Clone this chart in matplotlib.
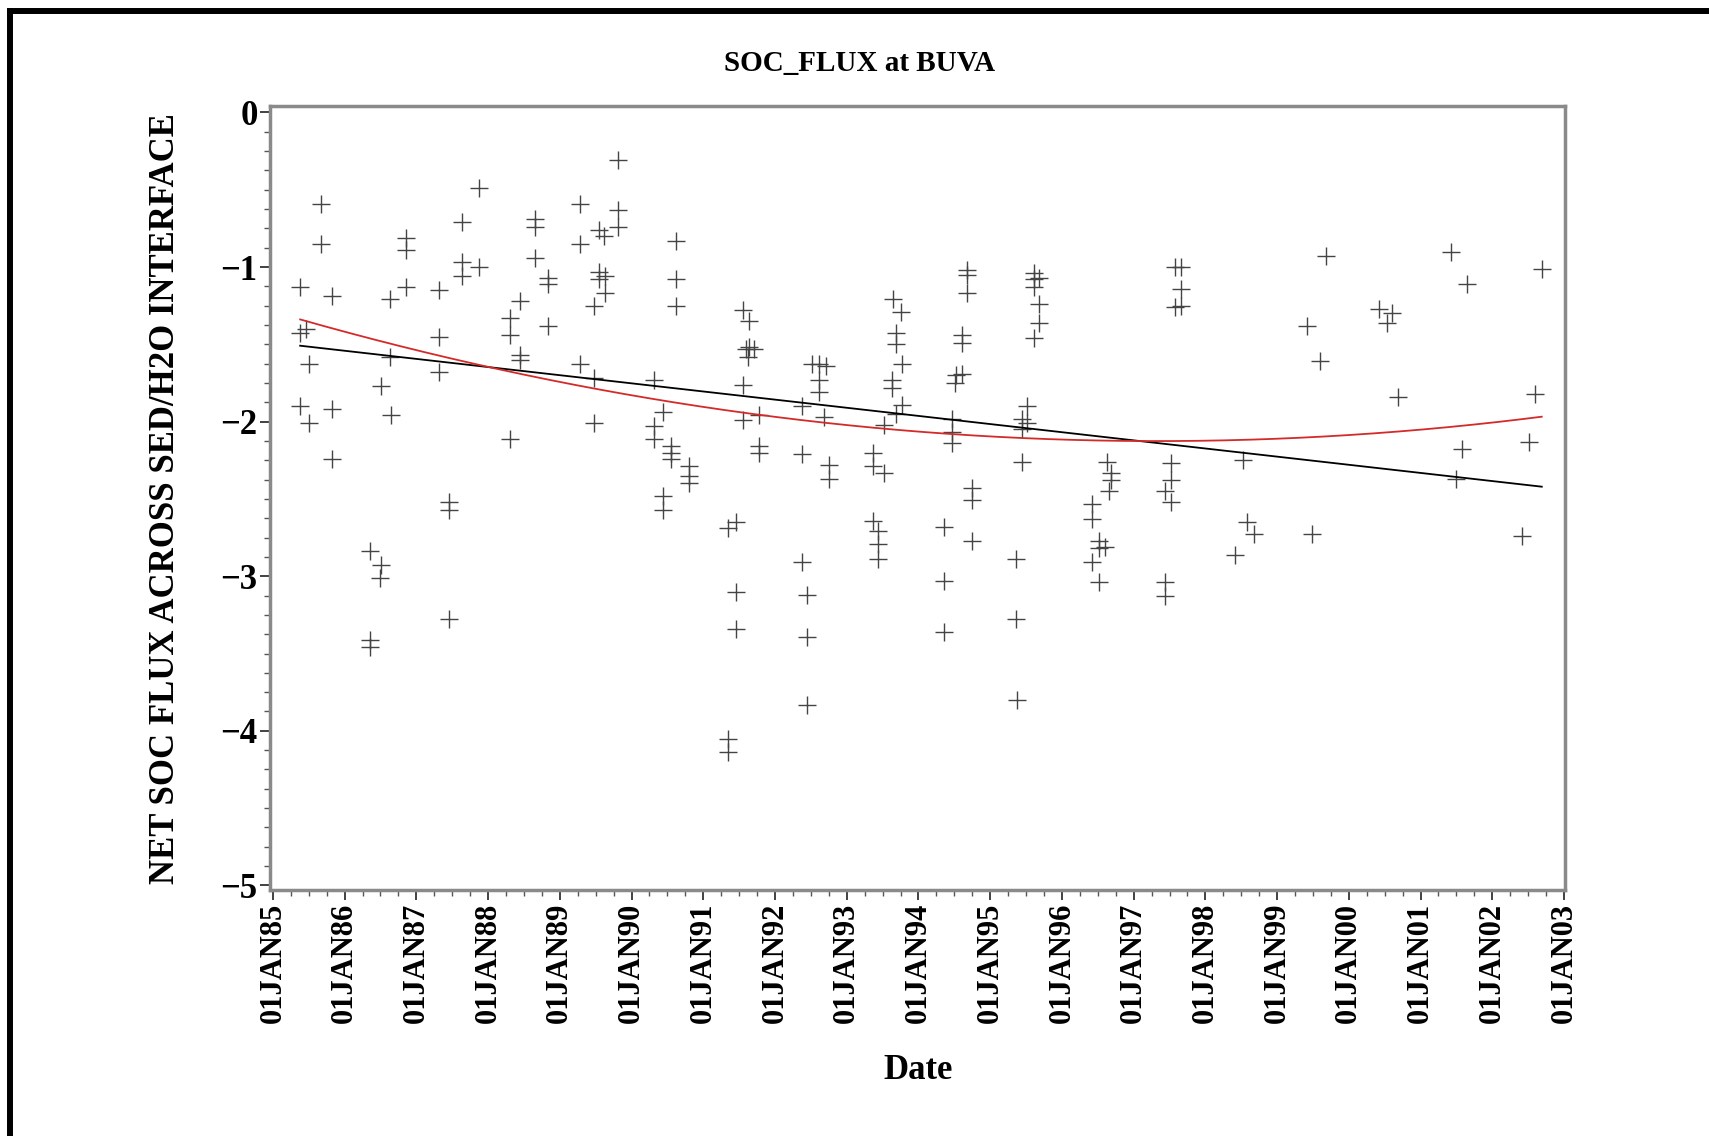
import numpy as np
import matplotlib
matplotlib.use("Agg")
import matplotlib.pyplot as plt
from matplotlib.lines import Line2D
from matplotlib.ticker import MultipleLocator

# sampling dates (decimal years) and net SOC flux values
dates = [
    1985.38, 1985.38, 1985.46, 1985.51, 1985.38, 1985.51, 1985.67, 1985.67, 1985.82, 1985.82,
    1985.82, 1986.35, 1986.35, 1986.35, 1986.51, 1986.51, 1986.49, 1986.63, 1986.63, 1986.64,
    1986.86, 1986.86, 1986.86, 1987.32, 1987.32, 1987.32, 1987.46, 1987.46, 1987.46, 1987.64,
    1987.64, 1987.64, 1987.87, 1987.87,
    1988.31, 1988.31, 1988.44, 1988.44, 1988.44, 1988.31, 1988.65, 1988.65, 1988.65, 1988.84,
    1988.84, 1988.84, 1989.28, 1989.28, 1989.28, 1989.47, 1989.47, 1989.47, 1989.54, 1989.62,
    1989.54, 1989.54, 1989.63, 1989.63, 1989.81, 1989.81, 1989.81, 1990.32, 1990.44, 1990.32,
    1990.32, 1990.55, 1990.55, 1990.55, 1990.44, 1990.44, 1990.62, 1990.62, 1990.62, 1990.80,
    1990.80, 1990.80,
    1991.55, 1991.64, 1991.64, 1991.60, 1991.71, 1991.62, 1991.55, 1991.55, 1991.78, 1991.78,
    1991.78, 1991.34, 1991.45, 1991.45, 1991.45, 1991.34, 1991.34, 1992.38, 1992.38, 1992.38,
    1992.45, 1992.45, 1992.45, 1992.52, 1992.62, 1992.71, 1992.62, 1992.62, 1992.68, 1992.75,
    1992.75, 1993.37, 1993.37, 1993.52, 1993.37, 1993.43, 1993.43, 1993.43, 1993.52, 1993.64,
    1993.76, 1993.69, 1993.69, 1993.77, 1993.63, 1993.63, 1993.77, 1993.69,
    1994.68, 1994.68, 1994.68, 1994.61, 1994.61, 1994.52, 1994.61, 1994.51, 1994.47, 1994.47,
    1994.47, 1994.35, 1994.35, 1994.35, 1994.75, 1994.75, 1994.75, 1995.61, 1995.61, 1995.68,
    1995.61, 1995.68, 1995.68, 1995.61, 1995.52, 1995.45, 1995.52, 1995.45, 1995.45, 1995.36,
    1995.36, 1995.37, 1996.63, 1996.68, 1996.68, 1996.65, 1996.42, 1996.42, 1996.52, 1996.60,
    1996.52, 1996.42, 1996.52,
    1997.58, 1997.66, 1997.66, 1997.58, 1997.66, 1997.52, 1997.52, 1997.44, 1997.52, 1997.44,
    1997.44, 1998.52, 1998.41, 1998.58, 1998.68, 1999.42, 1999.60, 1999.68, 1999.49,
    2000.42, 2000.53, 2000.60, 2000.69, 2001.43, 2001.65, 2001.58, 2001.50, 2002.41, 2002.51,
    2002.60, 2002.69,
]
flux = [
    -1.13, -1.43, -1.40, -1.63, -1.90, -2.01, -0.59, -0.85, -1.19, -1.92,
    -2.24, -2.84, -3.41, -3.46, -1.77, -2.93, -3.01, -1.21, -1.58, -1.96,
    -0.81, -0.89, -1.13, -1.15, -1.45, -1.68, -2.52, -2.57, -3.28, -0.71,
    -0.97, -1.06, -1.00, -0.49,
    -1.33, -1.44, -1.22, -1.57, -1.60, -2.11, -0.69, -0.74, -0.94, -1.07,
    -1.11, -1.38, -0.59, -0.85, -1.63, -1.25, -1.72, -2.01, -0.76, -0.80,
    -1.03, -1.08, -1.06, -1.17, -0.31, -0.63, -0.74, -1.73, -1.94, -2.03,
    -2.11, -2.16, -2.20, -2.24, -2.48, -2.57, -0.83, -1.08, -1.25, -2.29,
    -2.35, -2.40,
    -1.28, -1.35, -1.52, -1.53, -1.53, -1.58, -1.76, -1.99, -1.96, -2.16,
    -2.20, -2.69, -2.65, -3.10, -3.34, -4.05, -4.14, -1.90, -2.21, -2.91,
    -3.12, -3.39, -3.83, -1.63, -1.63, -1.64, -1.73, -1.81, -1.97, -2.28,
    -2.37, -2.20, -2.29, -2.33, -2.64, -2.71, -2.79, -2.89, -2.02, -1.21,
    -1.29, -1.43, -1.50, -1.63, -1.73, -1.78, -1.89, -1.95,
    -1.02, -1.05, -1.17, -1.44, -1.49, -1.70, -1.69, -1.75, -1.98, -2.07,
    -2.14, -2.68, -3.03, -3.36, -2.43, -2.51, -2.77, -1.04, -1.08, -1.07,
    -1.13, -1.24, -1.36, -1.46, -1.90, -1.98, -2.01, -2.05, -2.26, -2.89,
    -3.28, -3.80, -2.26, -2.33, -2.38, -2.45, -2.53, -2.63, -2.77, -2.81,
    -2.82, -2.91, -3.04,
    -1.00, -1.00, -1.14, -1.26, -1.25, -2.27, -2.38, -2.45, -2.52, -3.04,
    -3.13, -2.25, -2.86, -2.65, -2.73, -1.38, -1.61, -0.93, -2.73,
    -1.27, -1.36, -1.30, -1.84, -0.90, -1.11, -2.18, -2.37, -2.74, -2.13,
    -1.82, -1.01,
]

# trend curves (linear and quadratic regression)
fit_dates = [1985.38, 1987.88, 1990.90, 1994.00, 1997.10, 2000.20, 2002.69]
linear_fit = [-1.51, -1.64, -1.80, -1.96, -2.13, -2.29, -2.42]
quad_fit = [-1.34, -1.63, -1.90, -2.07, -2.12, -2.08, -1.97]

years = list(range(1985, 2004))
year_labels = ["01JAN%02d" % (y % 100) for y in years]
y_ticks = [0, -1, -2, -3, -4, -5]
y_labels = ["0", "\u22121", "\u22122", "\u22123", "\u22124", "\u22125"]

x = np.array(dates)
y = np.array(flux)

xs = np.linspace(fit_dates[0], fit_dates[-1], 200)
lin = np.polyval(np.polyfit(fit_dates, linear_fit, 1), xs)
quad = np.polyval(np.polyfit(fit_dates, quad_fit, 2), xs)

plt.rcParams['font.family'] = ['Liberation Serif', 'DejaVu Serif']
plt.rcParams['font.weight'] = 'bold'

fig = plt.figure(figsize=(17.09, 11.36), dpi=100)
ax = fig.add_axes([0.158, 0.2165, 0.758, 0.690])

ax.plot(x, y, linestyle='none', marker='+', markersize=13, markeredgewidth=1.0,
        color='#444444')
ax.plot(xs, lin, color='black', linewidth=1.3)
ax.plot(xs, quad, color='#d42a2a', linewidth=1.3)

ax.set_xlim(1984.96, 2003.02)
ax.set_ylim(-5.03, 0.04)

ax.set_xticks(years)
ax.set_xticklabels(year_labels, rotation=90, fontsize=22, fontweight='bold')
ax.xaxis.set_minor_locator(MultipleLocator(0.25))
ax.set_yticks(y_ticks)
ax.set_yticklabels(y_labels, fontsize=25, fontweight='bold')
ax.yaxis.set_minor_locator(MultipleLocator(0.125))

ax.tick_params(which='major', direction='out', length=7, width=1.3, color='#333333', pad=2)
ax.tick_params(which='minor', direction='out', length=4, width=1.0, color='#555555')

for s in ax.spines.values():
    s.set_color('#8a8a8a')
    s.set_linewidth(2.5)

ax.set_title("SOC_FLUX at BUVA", fontsize=21, fontweight='bold', pad=0, x=0.455, y=1.045)
ax.set_xlabel("Date", fontsize=25, fontweight='bold', labelpad=22)
ax.set_ylabel("NET SOC FLUX ACROSS SED/H2O INTERFACE", fontsize=25, fontweight='bold',
              labelpad=28)

# thick frame round the page (only left and top edges fall inside the image)
fig.add_artist(Line2D([0.0057, 0.0057], [0.0, 0.9905], transform=fig.transFigure,
                      color='black', linewidth=4.3, solid_capstyle='projecting'))
fig.add_artist(Line2D([0.0057, 1.0], [0.9905, 0.9905], transform=fig.transFigure,
                      color='black', linewidth=4.3, solid_capstyle='projecting'))

fig.savefig("out.png", dpi=100)
